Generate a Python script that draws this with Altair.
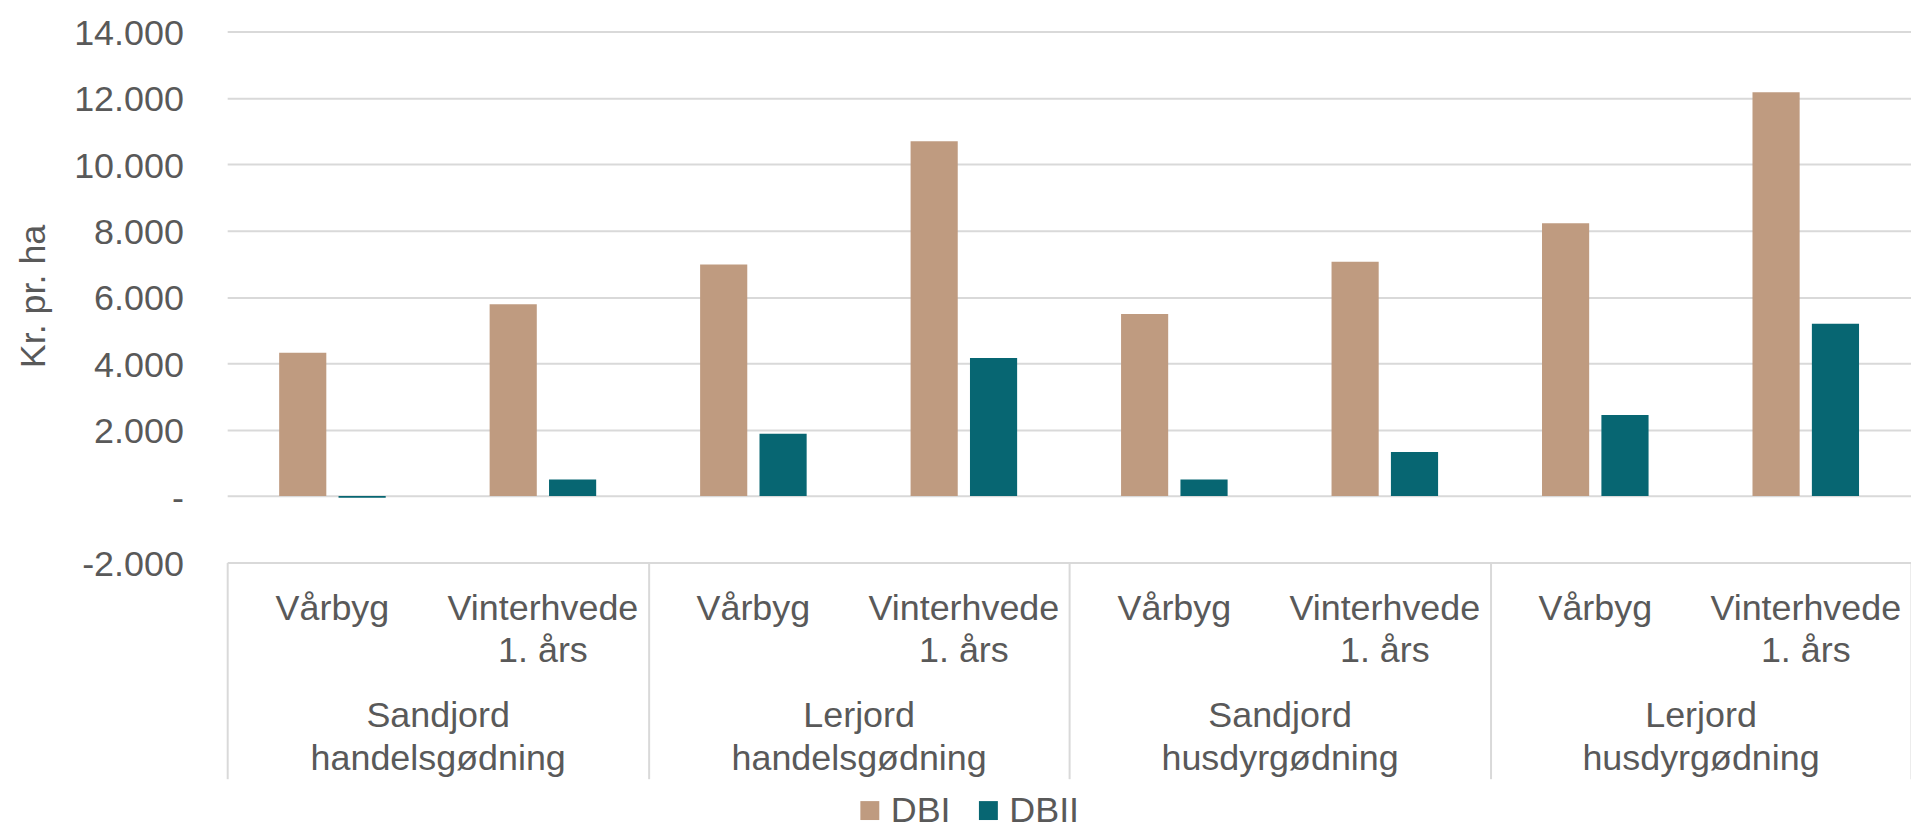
import altair as alt
import pandas as pd

# ---- data ----
groups = ["Sandjord handelsgødning", "Lerjord handelsgødning",
          "Sandjord husdyrgødning", "Lerjord husdyrgødning"]
crops = ["Vårbyg", "Vinterhvede 1. års"]
series = ["DBI", "DBII"]
dbi = [4320, 5780, 6980, 10690, 5490, 7060, 8220, 12170]
dbii = [-50, 500, 1880, 4160, 500, 1330, 2440, 5190]
y_ticks = [-2000, 0, 2000, 4000, 6000, 8000, 10000, 12000, 14000]
colors = ["#BF9B80", "#076672"]

rows = []
i = 0
for g in groups:
    for c in crops:
        key = g + "|" + c
        rows.append(dict(group=g, crop=c, key=key, series="DBI", value=dbi[i]))
        rows.append(dict(group=g, crop=c, key=key, series="DBII", value=dbii[i]))
        i += 1
df = pd.DataFrame(rows)
keys = [g + "|" + c for g in groups for c in crops]

FONT = "Liberation Sans"
GREY = "#595959"
LINE = "#D9D9D9"
FS = 36
W, H = 1690, 533

y_label_expr = ("datum.value == 0 ? '-\u00a0\u00a0' : "
                "(datum.value < 0 ? '-' : '') + replace(format(abs(datum.value), ','), ',', '.')")

bars = alt.Chart(df).mark_bar().encode(
    x=alt.X(
        "key:N",
        scale=alt.Scale(domain=keys, paddingInner=0, paddingOuter=0),
        axis=alt.Axis(
            title=None, orient="bottom", domain=False, ticks=False, grid=False,
            labelAngle=0, labelPadding=57, labelBaseline="alphabetic",
            labelLineHeight=42, labelFontSize=FS, labelColor=GREY, labelFont=FONT,
            labelLimit=0, labelOverlap=False,
            labelExpr="split(split(datum.label, '|')[1], regexp(' (?=1)'))",
        ),
    ),
    xOffset=alt.XOffset(
        "series:N",
        scale=alt.Scale(domain=series, paddingInner=0.206, paddingOuter=0.875),
    ),
    y=alt.Y(
        "value:Q",
        scale=alt.Scale(domain=[-2000, 14000], nice=False, zero=False),
        axis=alt.Axis(
            values=y_ticks, title="Kr. pr. ha", titleFontSize=FS, titleFont=FONT,
            titleColor=GREY, titleFontWeight="normal", titleAngle=270,
            titleX=-183, titleY=265.5, titleAlign="center", titleBaseline="alphabetic",
            domain=False, ticks=False, labelPadding=44, labelFontSize=FS,
            labelBaseline="alphabetic", labelOffset=13, labelColor=GREY, labelFont=FONT,
            labelLimit=0, gridColor=LINE, gridWidth=2, labelExpr=y_label_expr,
        ),
    ),
    color=alt.Color(
        "series:N",
        scale=alt.Scale(domain=series, range=colors),
        legend=alt.Legend(
            title=None, orient="none", legendX=627, legendY=764,
            direction="horizontal", symbolType="square", symbolSize=361,
            symbolStrokeWidth=0, labelFontSize=FS, labelColor=GREY, labelFont=FONT,
            labelOffset=3, columnPadding=19,
        ),
    ),
)

group_axis = alt.Chart(df).mark_point(opacity=0).encode(
    x=alt.X(
        "group:N",
        scale=alt.Scale(domain=groups, paddingInner=0, paddingOuter=0),
        axis=alt.Axis(
            title=None, orient="bottom", domain=False, grid=False, ticks=True,
            tickBand="extent", tickSize=217, tickColor=LINE, tickWidth=2,
            labelPadding=-52, labelBaseline="alphabetic", labelLineHeight=43,
            labelFontSize=FS, labelColor=GREY, labelFont=FONT, labelAngle=0,
            labelLimit=0, labelOverlap=False,
            labelExpr="split(datum.label, ' ')",
        ),
    ),
)

chart = (
    alt.layer(bars, group_axis)
    .resolve_scale(x="independent")
    .properties(
        width=W, height=H,
        autosize=alt.AutoSizeParams(type="none"),
        padding={"left": 220, "top": 22, "right": 0, "bottom": 271},
    )
    .configure(font=FONT)
    .configure_view(stroke=None)
)

chart.save("out.html", embed_options={"renderer": "svg", "actions": False})
